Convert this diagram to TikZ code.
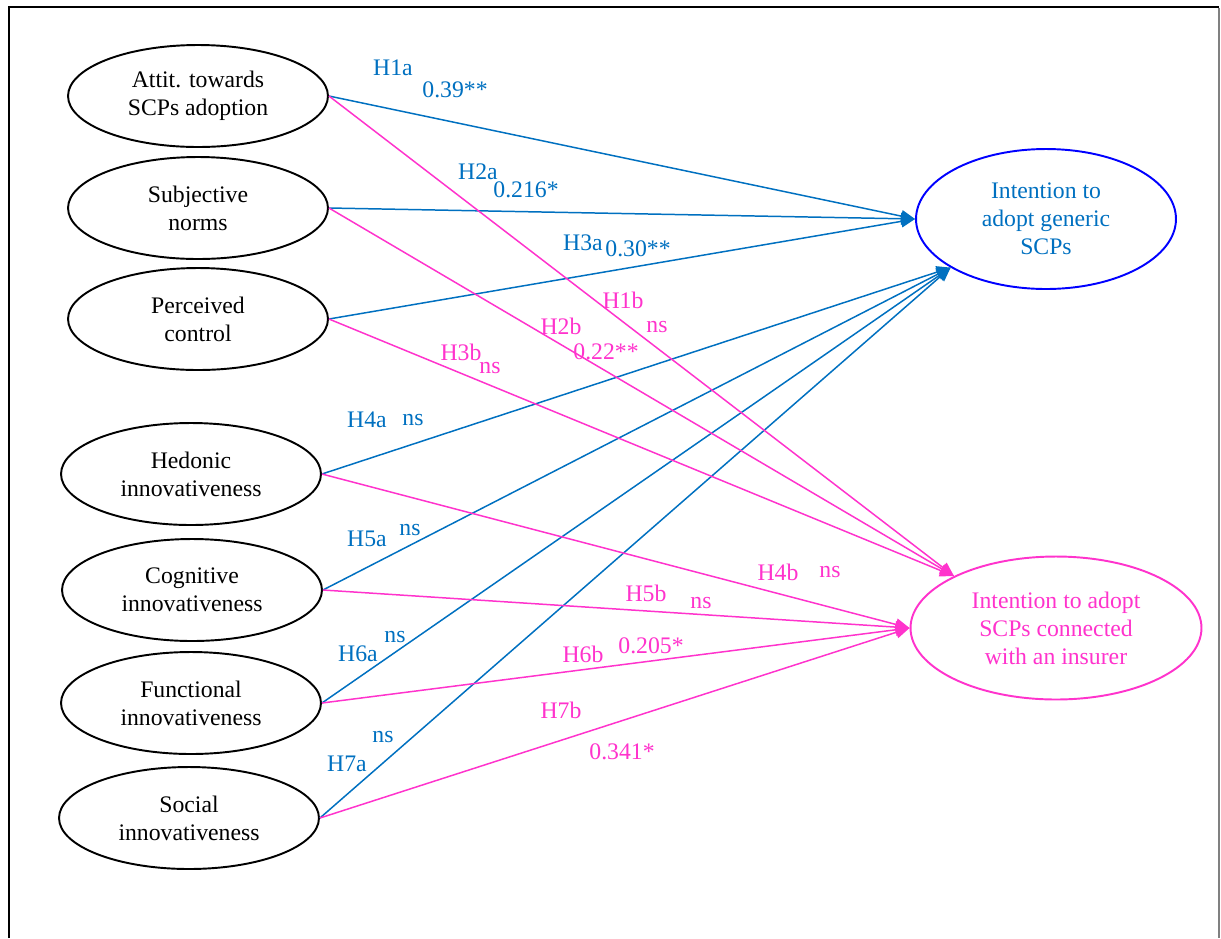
\documentclass[tikz,border=0pt]{standalone}
\usepackage{fontspec}
\setmainfont{Liberation Serif}
\usepackage{tikz}
\usetikzlibrary{arrows.meta,shapes.geometric}

\definecolor{pathblue}{HTML}{0070C0}
\definecolor{pathpink}{HTML}{FF33CC}

\tikzset{
	construct/.style={ellipse,draw,line width=1.1pt,inner sep=0pt,align=center,
		minimum width=5.2cm,minimum height=2.04cm,font=\fontsize{13.5}{16}\selectfont},
	pathA/.style={pathblue,line width=0.85pt,-{Triangle[length=2.8mm,width=2.4mm]}},
	pathB/.style={pathpink,line width=0.85pt,-{Triangle[length=2.8mm,width=2.4mm]}},
	lblA/.style={pathblue,inner sep=0pt,font=\fontsize{13.5}{16}\selectfont},
	lblB/.style={pathpink,inner sep=0pt,font=\fontsize{13.5}{16}\selectfont}
}

\begin{document}
\begin{tikzpicture}[x=0.02cm,y=-0.02cm]
		\useasboundingbox (0,0) rectangle (1221,938);
		% frame
		\draw[line width=1.3pt] (9,938) -- (9,7) -- (1219,7);
		\draw[gray,line width=0.6pt] (1219,8) -- (1219,938);

		% antecedents
		\path (198,96) node(att) [construct] {Attit. towards\\SCPs adoption};
		\path (198,208) node(norm) [construct] {Subjective\\norms};
		\path (198,319) node(ctrl) [construct] {Perceived\\control};
		\path (191,474) node(hed) [construct] {Hedonic\\innovativeness};
		\path (192,590) node(cog) [construct] {Cognitive\\innovativeness};
		\path (191,703) node(fun) [construct] {Functional\\innovativeness};
		\path (189,818) node(soc) [construct] {Social\\innovativeness};

		% outcomes
		\path (1046,219) node(gen) [construct,draw=blue,text=pathblue,minimum width=5.2cm,minimum height=2.8cm]
			{Intention to\\adopt generic\\SCPs};
		\path (1056,628) node(ins) [construct,draw=pathpink,text=pathpink,minimum width=5.82cm,minimum height=2.86cm]
			{Intention to adopt\\SCPs connected\\with an insurer};

		% paths to generic SCPs
		\draw[pathA] (att.east) -- (gen.west);
		\draw[pathA] (norm.east) -- (gen.west);
		\draw[pathA] (ctrl.east) -- (gen.west);
		\draw[pathA] (hed.east) -- (gen.207);
		\draw[pathA] (cog.east) -- (gen.207);
		\draw[pathA] (fun.east) -- (gen.207);
		\draw[pathA] (soc.east) -- (gen.207);

		% paths to insurer SCPs
		\draw[pathB] (att.east) -- (ins.153);
		\draw[pathB] (norm.east) -- (ins.153);
		\draw[pathB] (ctrl.east) -- (ins.153);
		\draw[pathB] (hed.east) -- (ins.west);
		\draw[pathB] (cog.east) -- (ins.west);
		\draw[pathB] (fun.east) -- (ins.west);
		\draw[pathB] (soc.east) -- (ins.west);

		% hypotheses and coefficients
		\path (393,68) node(h1a) [lblA] {H1a};
		\path (455,90) node(c1a) [lblA] {0.39**};
		\path (478,172) node(h2a) [lblA] {H2a};
		\path (526,190) node(c2a) [lblA] {0.216*};
		\path (583,243) node(h3a) [lblA] {H3a};
		\path (638,249) node(c3a) [lblA] {0.30**};
		\path (367,420) node(h4a) [lblA] {H4a};
		\path (413,420) node(c4a) [lblA] {ns};
		\path (367,539) node(h5a) [lblA] {H5a};
		\path (410,530) node(c5a) [lblA] {ns};
		\path (358,654) node(h6a) [lblA] {H6a};
		\path (395,637) node(c6a) [lblA] {ns};
		\path (347,764) node(h7a) [lblA] {H7a};
		\path (383,737) node(c7a) [lblA] {ns};

		\path (623,300) node(h1b) [lblB] {H1b};
		\path (657,327) node(c1b) [lblB] {ns};
		\path (561,326) node(h2b) [lblB] {H2b};
		\path (606,352) node(c2b) [lblB] {0.22**};
		\path (461,352) node(h3b) [lblB] {H3b};
		\path (490,368) node(c3b) [lblB] {ns};
		\path (778,572) node(h4b) [lblB] {H4b};
		\path (830,572) node(c4b) [lblB] {ns};
		\path (646,593) node(h5b) [lblB] {H5b};
		\path (701,603) node(c5b) [lblB] {ns};
		\path (583,654) node(h6b) [lblB] {H6b};
		\path (651,646) node(c6b) [lblB] {0.205*};
		\path (561,710) node(h7b) [lblB] {H7b};
		\path (622,752) node(c7b) [lblB] {0.341*};
\end{tikzpicture}
\end{document}
